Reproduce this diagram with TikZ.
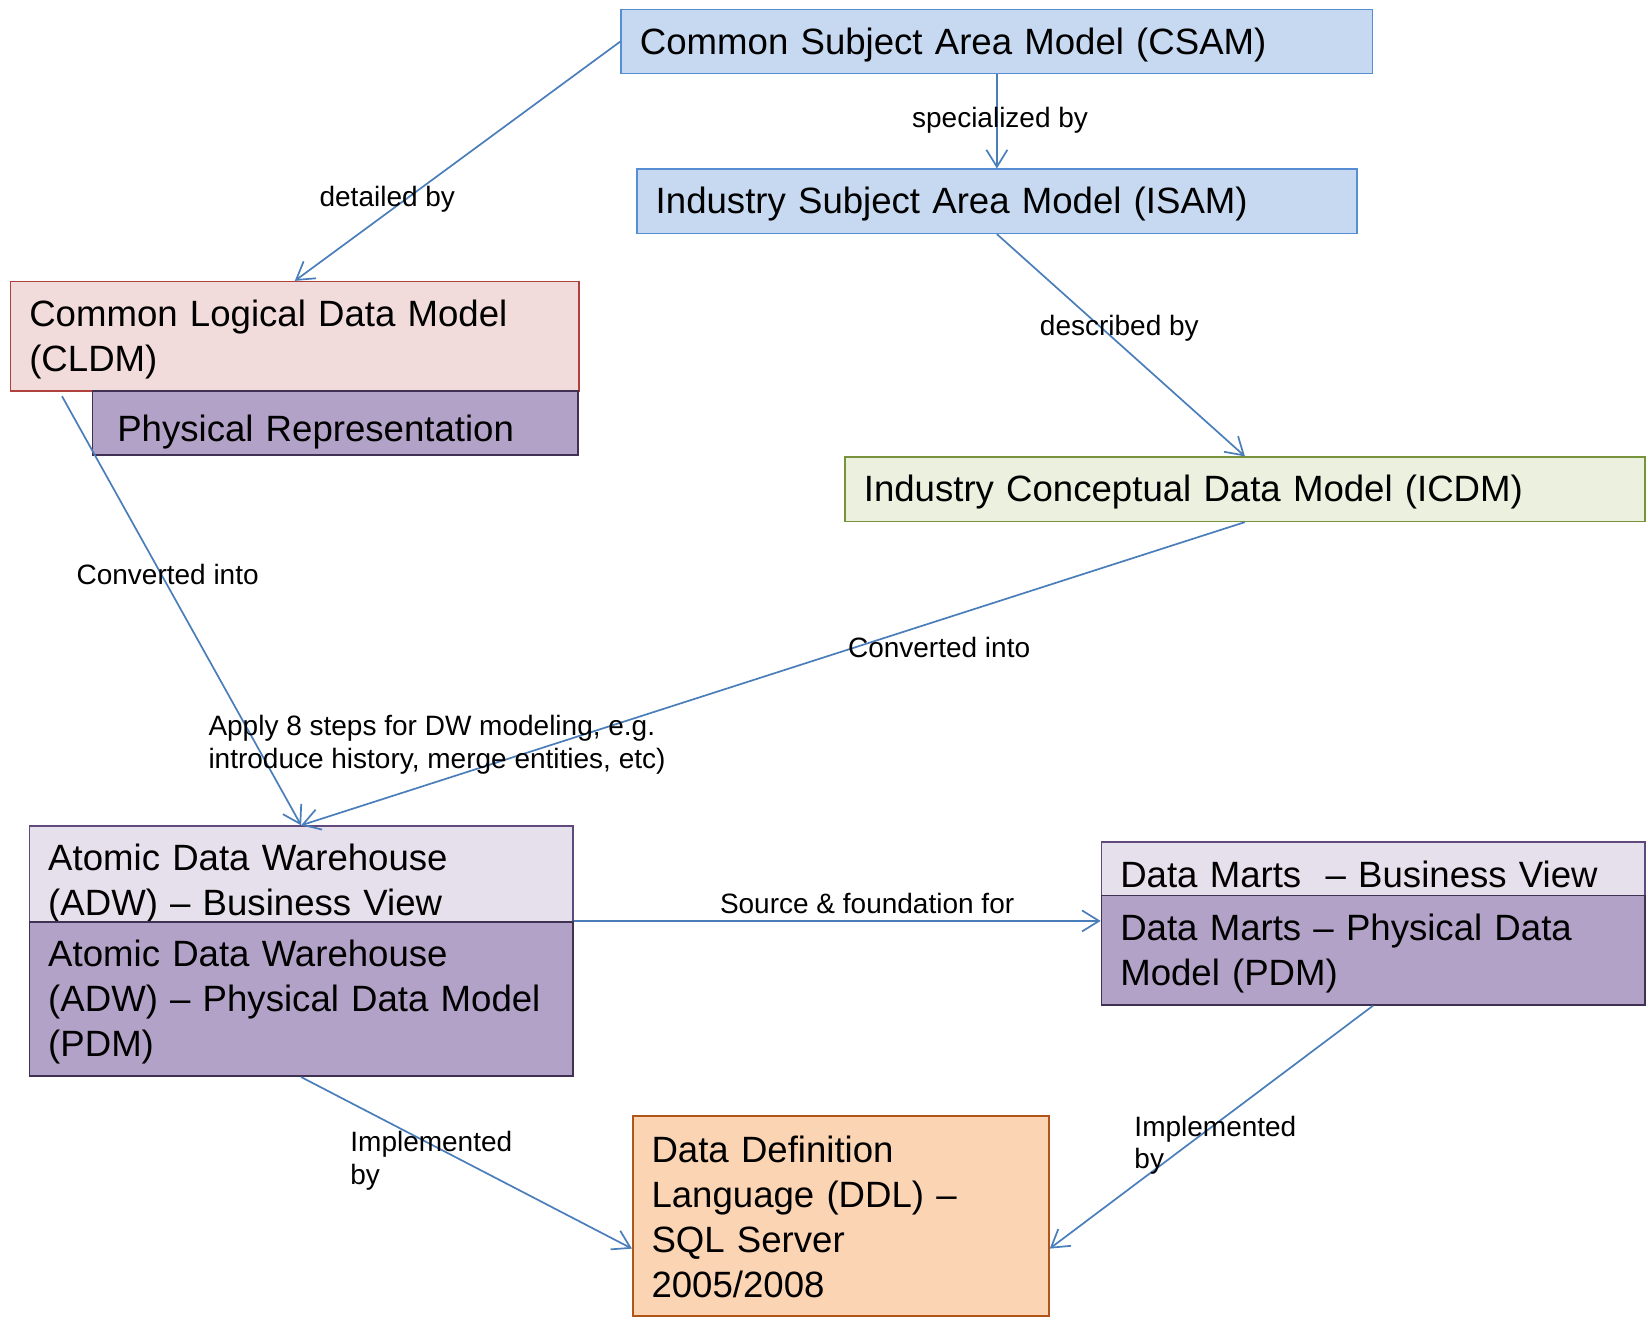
\documentclass[tikz,border=0pt]{standalone}
\usepackage{fontspec}
\setmainfont{Liberation Sans}
\usetikzlibrary{arrows.meta,calc}
\definecolor{blueF}{HTML}{C6D9F1}
\definecolor{blueD}{HTML}{558ED5}
\definecolor{redF}{HTML}{F2DCDB}
\definecolor{redD}{HTML}{B0413E}
\definecolor{purF}{HTML}{B3A2C7}
\definecolor{purD}{HTML}{403152}
\definecolor{lavF}{HTML}{E6E0EC}
\definecolor{lavD}{HTML}{604A7B}
\definecolor{grnF}{HTML}{EBF1DE}
\definecolor{grnD}{HTML}{77933C}
\definecolor{orgF}{HTML}{FBD4B4}
\definecolor{orgD}{HTML}{B0561A}
\definecolor{arrC}{HTML}{4A7EBB}
\newcommand\tstrut{\rule{0pt}{16.3pt}}
\begin{document}
\begin{tikzpicture}[x=0.5255pt,y=-0.5255pt,
  bx/.style 2 args={draw, line width=0.8pt, inner xsep=9.4pt, inner ysep=0pt,
    minimum width=#1*0.5255pt, minimum height=#2*0.5255pt,
    text width=#1*0.5255pt-18.8pt, align=left,
    font=\fontsize{18.3}{22.6}\selectfont},
  lbl/.style={inner sep=0pt, align=left, font=\fontsize{14}{16.3}\selectfont},
  arr/.style={draw=arrC, line width=0.85pt, -{Straight Barb[length=8.5pt,width=10.5pt]}}]
\useasboundingbox (0,0) rectangle (1568,1260);
\fill[white] (0,0) rectangle (1568,1260);
% boxes
\node[bx={715}{61}, fill=blueF, draw=blueD] (csam) at (948.5,39.5) {\tstrut Common Subject Area Model (CSAM)};
\node[bx={685}{61}, fill=blueF, draw=blueD] (isam) at (948.5,191.5) {\tstrut Industry Subject Area Model (ISAM)};
\node[bx={541}{104}, fill=redF, draw=redD] (cldm) at (280.5,320) {\tstrut Common Logical Data Model\\(CLDM)};
\node[bx={462}{61}, fill=purF, draw=purD] (phys) at (319,402.5) {\tstrut\hspace*{3pt}\raisebox{-2.8pt}[\height][\depth]{Physical Representation}};
\node[bx={761}{61}, fill=grnF, draw=grnD] (icdm) at (1184.5,465.5) {\tstrut Industry Conceptual Data Model (ICDM)};
\node[bx={517}{104}, fill=lavF, draw=lavD] (adwb) at (286.5,838) {\tstrut Atomic Data Warehouse\\(ADW) – Business View};
\node[bx={517}{147}, fill=purF, draw=purD] (adwp) at (286.5,950.5) {\tstrut Atomic Data Warehouse\\(ADW) – Physical Data Model\\(PDM)};
\node[bx={517}{56}, fill=lavF, draw=lavD] (dmb) at (1306.5,829) {\tstrut Data Marts~~– Business View};
\node[bx={517}{104}, fill=purF, draw=purD] (dmp) at (1306.5,904) {\tstrut Data Marts – Physical Data\\Model (PDM)};
\node[bx={396}{190}, fill=orgF, draw=orgD] (ddl) at (800,1157) {\rule{0pt}{14.2pt}Data Definition\\Language (DDL) –\\SQL Server\\2005/2008};
% connectors
\coordinate (cldmout) at (59,377);
\draw[arr] (csam.west) -- (cldm.north);
\draw[arr] (csam.south) -- (isam.north);
\draw[arr] (isam.south) -- (icdm.north);
\draw[arr] (cldmout) -- (adwb.north);
\draw[arr] (icdm.south) -- (adwb.north);
\draw[arr] (adwp.north east) -- (adwp.north east -| dmp.west);
\draw[arr] (adwp.south) -- ($(ddl.west)+(0,31)$);
\draw[arr] (dmp.south) -- ($(ddl.east)+(0,31)$);
% labels
\node[lbl] (l1) at (368.5,190) {detailed by};
\node[lbl] (l2) at (951.5,114) {specialized by};
\node[lbl] (l3) at (1065,312) {described by};
\node[lbl] (l4) at (159.5,547) {Converted into};
\node[lbl] (l5) at (893.5,616) {Converted into};
\node[lbl, anchor=west] (l6) at (198,708.5) {Apply 8 steps for DW modeling, e.g.\\introduce history, merge entities, etc)};
\node[lbl] (l7) at (825,860) {Source \& foundation for};
\node[lbl, anchor=west] (l8) at (333,1104.5) {Implemented\\by};
\node[lbl, anchor=west] (l9) at (1079,1089.5) {Implemented\\by};
\end{tikzpicture}
\end{document}
